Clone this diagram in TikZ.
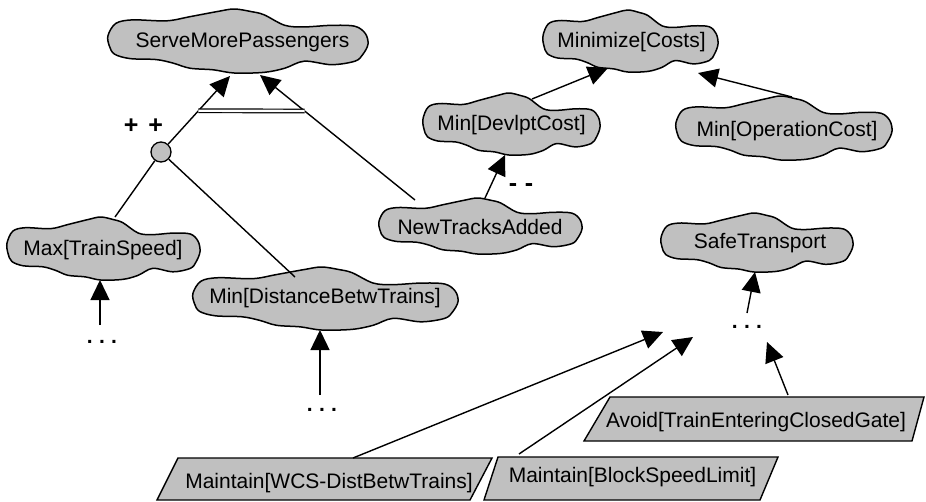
\documentclass[tikz,border=0pt]{standalone}
\usepackage{fontspec}
\setmainfont{Liberation Sans}
\usetikzlibrary{arrows.meta,calc}
\definecolor{goalfill}{RGB}{192,192,192}
\tikzset{
  goalblob/.style={draw=black, line width=1.5pt, fill=goalfill, line join=round},
  goaltext/.style={font=\fontsize{21}{25}\selectfont, inner sep=0pt,
                   text height=15pt, text depth=0pt},
  reqbox/.style={draw=black, line width=1.4pt, fill=goalfill, line join=miter},
  arr/.style={line width=1.4pt, -{Triangle[length=20pt,width=19pt]}},
  link/.style={line width=1.4pt},
  andlink/.style={line width=1.2pt, double, double distance=2.4pt},
  andnode/.style={circle, draw=black, fill=goalfill, line width=1.3pt,
                  minimum size=20pt, inner sep=0pt},
  signtext/.style={font=\bfseries\fontsize{25}{30}\selectfont, inner sep=0pt},
  dotstext/.style={font=\bfseries\fontsize{21}{25}\selectfont, inner sep=0pt,
                   text height=3pt, text depth=0pt},
}
% goal cloud: name, blob centre x, y, width, height, text centre x, y, text
\newcommand\goalcloud[8]{%
  \path[goalblob, shift={(#2,#3)}, xscale=#4/2, yscale=#5/2]
    plot[smooth cycle, tension=0.55] coordinates {
      (-1,-0.17) (-0.94,-0.55) (-0.81,-0.66) (-0.55,-0.63) (-0.37,-0.76)
      (-0.16,-0.92) (-0.03,-1.0) (0.10,-0.92) (0.2,-0.82) (0.36,-0.49)
      (0.51,-0.44) (0.72,-0.49) (0.9,-0.46) (0.98,-0.23) (1.0,0.1)
      (0.96,0.42) (0.9,0.63) (0.72,0.74) (0.51,0.63) (0.36,0.85)
      (0.2,0.98) (-0.03,1.0) (-0.19,0.9) (-0.37,0.85) (-0.5,0.69)
      (-0.63,0.58) (-0.83,0.55) (-0.95,0.41) (-0.99,0.15)};
  \node[goaltext] (#1) at (#6,#7) {#8};
}
\begin{document}
\begin{tikzpicture}[x=1pt,y=-1pt]
\useasboundingbox[fill=white] (0,0) rectangle (926,501);

% goals
\goalcloud{smp}{238}{41}{260}{64}{242.5}{39.5}{ServeMorePassengers}
\goalcloud{mc}{630.5}{41}{175}{62}{631.5}{40}{Minimize[Costs]}
\goalcloud{mdc}{511.5}{124}{177}{62}{511.5}{122.5}{Min[DevlptCost]}
\goalcloud{moc}{784}{128}{216}{64}{787}{128.5}{Min[OperationCost]}
\goalcloud{nta}{480.5}{226}{203}{56}{480}{226.5}{NewTracksAdded}
\goalcloud{mts}{103.5}{248.5}{193}{63}{103}{248}{Max[TrainSpeed]}
\goalcloud{mdt}{325.5}{298.5}{265}{63}{325}{296}{Min[DistanceBetwTrains]}
\goalcloud{st}{757}{242.5}{192}{59}{760}{241}{SafeTransport}

% requirements
\draw[reqbox] (157,500) -- (178,458) -- (492,458) -- (470,500) -- cycle;
\node[goaltext] (wcs) at (329,481) {Maintain[WCS-DistBetwTrains]};
\draw[reqbox] (484,500) -- (498,457) -- (778,457) -- (760,500) -- cycle;
\node[goaltext] (bsl) at (632.5,475) {Maintain[BlockSpeedLimit]};
\draw[reqbox] (584,441) -- (610,397) -- (924,397) -- (912,441) -- cycle;
\node[goaltext] (avd) at (756,419.5) {Avoid[TrainEnteringClosedGate]};

% and-refinement
\node[andnode] (andc) at (161,152) {};
\node[signtext] (pp) at (143.5,126) {+\hspace{0.4em}+};
\node[signtext] (mm) at (521,188) {-\hspace{0.3em}-};

% ellipses for omitted subgoals
\node[dotstext] (d1) at (102,342) {.\hspace{0.3em}.\hspace{0.3em}.};
\node[dotstext] (d2) at (322,410) {.\hspace{0.3em}.\hspace{0.3em}.};
\node[dotstext] (d3) at (747,327) {.\hspace{0.3em}.\hspace{0.3em}.};
\coordinate (ta) at ($(d3)+(-84,5)$);
\coordinate (tb) at ($(d3)+(-54,10)$);

% links
\draw[arr] (andc) -- coordinate[pos=0.49] (dl1) ($(smp)+(-12.5,36.5)$);
\draw[arr] ($(nta)+(-65,-26.5)$) -- coordinate[pos=0.712] (dl2) ($(smp)+(17.5,35.5)$);
\draw[andlink] (dl1) -- (dl2);
\draw[link] (andc) -- ($(mts)+(12,-31)$);
\draw[link] (andc) -- ($(mdt)+(-30,-19)$);
\draw[arr] ($(nta)+(5,-28.5)$) -- ($(mdc)+(-6.5,32.5)$);
\draw[arr] ($(mdc)+(20.5,-23.5)$) -- ($(mc)+(-23.5,28)$);
\draw[arr] ($(moc)+(5,-31.5)$) -- ($(mc)+(66.5,33)$);
\draw[arr] ($(d1)+(-2,-17)$) -- ($(mts)+(-3,32)$);
\draw[arr] ($(d2)+(-2,-15)$) -- ($(mdt)+(-5,34)$);
\draw[arr] ($(d3)+(0,-14)$) -- ($(st)+(-5,31)$);
\draw[arr] ($(avd)+(32,-24.5)$) -- ($(d3)+(20,15)$);
\draw[arr] ($(wcs)+(24,-23)$) -- (ta);
\draw[arr] ($(bsl)+(-113.5,-21)$) -- (tb);
\end{tikzpicture}
\end{document}
